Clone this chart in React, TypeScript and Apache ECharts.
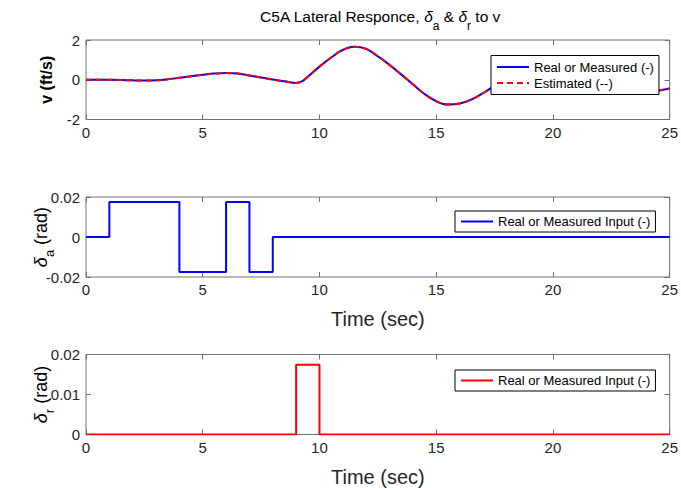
import React, { useEffect, useRef } from 'react';
import * as echarts from 'echarts';

// ---- data ----
const vTime = [0, 0.5, 1, 1.5, 2, 2.5, 3, 3.5, 4, 4.5, 5, 5.5, 6, 6.5, 7, 7.5, 8, 8.5, 9, 9.25, 9.5, 10, 10.5, 11, 11.5, 12, 12.5, 13, 13.5, 14, 14.5, 15, 15.5, 16, 16.5, 17, 17.5, 18, 18.5, 19, 19.5, 20, 20.5, 21, 21.5, 22, 22.5, 23, 23.5, 24, 24.5, 25];
const vReal = [0, 0, 0, -0.01, -0.03, -0.04, -0.03, 0.02, 0.1, 0.18, 0.25, 0.31, 0.34, 0.31, 0.21, 0.11, 0.01, -0.08, -0.16, -0.08, 0.15, 0.66, 1.12, 1.5, 1.66, 1.55, 1.18, 0.75, 0.27, -0.23, -0.72, -1.08, -1.25, -1.2, -1.0, -0.68, -0.3, 0.12, 0.5, 0.75, 0.85, 0.8, 0.6, 0.3, -0.05, -0.35, -0.55, -0.65, -0.68, -0.64, -0.55, -0.44];
const vEstimated = [0, 0, 0, -0.01, -0.03, -0.04, -0.03, 0.02, 0.1, 0.18, 0.25, 0.31, 0.34, 0.31, 0.21, 0.11, 0.01, -0.08, -0.16, -0.08, 0.15, 0.66, 1.12, 1.5, 1.66, 1.55, 1.18, 0.75, 0.27, -0.23, -0.72, -1.08, -1.25, -1.2, -1.0, -0.68, -0.3, 0.12, 0.5, 0.75, 0.85, 0.8, 0.6, 0.3, -0.05, -0.35, -0.55, -0.65, -0.68, -0.64, -0.55, -0.44];
const aileronTime = [0, 1, 4, 6, 7, 8, 25];
const aileronValue = [0, 0.01745, -0.01745, 0.01745, -0.01745, 0, 0];
const rudderTime = [0, 9, 10, 25];
const rudderValue = [0, 0.01745, 0, 0];

const vLegend = ['Real or Measured (-)', 'Estimated (--)'];
const inputLegend = 'Real or Measured Input (-)';

const FONT = '"Liberation Sans", Arial, Helvetica, sans-serif';
const AXIS = '#707070';
const TXT = '#262626';

const pairs = (xs: number[], ys: number[]) => xs.map((x, i) => [x, ys[i]]);

const grids = [
  { left: 86, right: 9, top: 40, height: 79.5 },
  { left: 86, right: 9, top: 197, height: 80 },
  { left: 86, right: 9, top: 354.5, height: 80 },
];

const subRich = {
  d: { fontSize: 18, fontFamily: FONT, fontStyle: 'italic', color: '#000', lineHeight: 20, verticalAlign: 'top' },
  s: { fontSize: 13, fontFamily: FONT, color: '#000', lineHeight: 13, padding: [11, 0, 0, 0], verticalAlign: 'top' },
  n: { fontSize: 18, fontFamily: FONT, color: '#000', lineHeight: 20, verticalAlign: 'top' },
};

export default function App() {
  const ref = useRef<HTMLDivElement>(null);
  useEffect(() => {
    if (!ref.current) return;
    const chart = echarts.init(ref.current, undefined, { renderer: 'svg' });

    const xAxes: any[] = [];
    const yAxes: any[] = [];
    const yRanges = [
      { min: -2, max: 2, interval: 2 },
      { min: -0.02, max: 0.02, interval: 0.02 },
      { min: 0, max: 0.02, interval: 0.01 },
    ];
    const yNames = [
      '{b|v (ft/s)}',
      '{d|δ}{s|a}{n| (rad)}',
      '{d|δ}{s|r}{n| (rad)}',
    ];
    const tick = { show: true, inside: true, length: 5, lineStyle: { color: AXIS } };
    for (let i = 0; i < 3; i++) {
      xAxes.push({
        type: 'value', gridIndex: i, min: 0, max: 25, interval: 5, position: 'bottom',
        axisLine: { show: false, onZero: false },
        axisTick: tick,
        axisLabel: { fontSize: 15, color: TXT, fontFamily: FONT, margin: 5 },
        splitLine: { show: false },
        name: i > 0 ? 'Time (sec)' : '',
        nameLocation: 'middle', nameGap: 32, nameMoveOverlap: false,
        nameTextStyle: { fontSize: 20, color: TXT, fontFamily: FONT },
      });
      xAxes.push({
        type: 'value', gridIndex: i, min: 0, max: 25, interval: 5, position: 'top',
        axisLine: { show: false, onZero: false },
        axisTick: tick,
        axisLabel: { show: false }, splitLine: { show: false },
      });
      yAxes.push({
        type: 'value', gridIndex: i, ...yRanges[i], position: 'left',
        axisLine: { show: false, onZero: false },
        axisTick: tick,
        axisLabel: {
          fontSize: 15, color: TXT, fontFamily: FONT, margin: 6,
          formatter: (v: number) => String(parseFloat(v.toFixed(3))),
        },
        splitLine: { show: false },
        name: yNames[i], nameLocation: 'middle', nameRotate: 90, nameGap: i === 0 ? 30 : 34,
        nameMoveOverlap: false,
        nameTextStyle: {
          rich: {
            ...subRich,
            b: { fontSize: 16, fontFamily: FONT, fontWeight: 'bold', color: '#000', lineHeight: 20 },
          },
        },
      });
      yAxes.push({
        type: 'value', gridIndex: i, ...yRanges[i], position: 'right',
        axisLine: { show: false, onZero: false },
        axisTick: tick,
        axisLabel: { show: false }, splitLine: { show: false },
      });
    }

    const legendBase = {
      orient: 'vertical', itemWidth: 32, itemHeight: 14, itemGap: 3, itemTextGap: 4,
      borderColor: '#000', borderWidth: 1, backgroundColor: '#fff', borderRadius: 0,
      textStyle: { fontSize: 13, color: '#000', fontFamily: FONT },
      itemStyle: { opacity: 0, borderWidth: 0 },
      selectedMode: false,
    };

    chart.setOption({
      animation: false,
      backgroundColor: '#fff',
      grid: grids.map((g) => ({ ...g, show: true, borderColor: AXIS, borderWidth: 1, backgroundColor: '#fff' })),
      xAxis: xAxes,
      yAxis: yAxes,
      legend: [
        { ...legendBase, data: vLegend, left: 491, top: 55.5, padding: [5, 5, 5, 5] },
        { ...legendBase, data: ['ail'], left: 455, top: 211, padding: [4, 5, 4, 5], formatter: () => inputLegend },
        { ...legendBase, data: ['rud'], left: 455, top: 370, padding: [4, 5, 4, 5], formatter: () => inputLegend },
      ],
      graphic: [
        {
          type: 'text', x: 380, y: 18,
          style: {
            text: '{n|C5A Lateral Responce, }{d|δ}{s|a}{n| & }{d|δ}{s|r}{n| to v}',
            align: 'center', verticalAlign: 'middle',
            rich: {
              n: { fontSize: 15.5, fontFamily: FONT, fill: '#000', lineHeight: 20, verticalAlign: 'top' },
              d: { fontSize: 15.5, fontFamily: FONT, fontStyle: 'italic', fill: '#000', lineHeight: 20, verticalAlign: 'top' },
              s: { fontSize: 12, fontFamily: FONT, fill: '#000', lineHeight: 12, padding: [12, 0, 0, 0], verticalAlign: 'top' },
            },
          },
        },
      ],
      series: [
        {
          name: vLegend[0], type: 'line', xAxisIndex: 0, yAxisIndex: 0,
          data: pairs(vTime, vReal), smooth: 0.4, symbol: 'none',
          lineStyle: { color: '#0000ff', width: 2 }, itemStyle: { color: '#0000ff' }, z: 2,
        },
        {
          name: vLegend[1], type: 'line', xAxisIndex: 0, yAxisIndex: 0,
          data: pairs(vTime, vEstimated), smooth: 0.4, symbol: 'none',
          lineStyle: { color: '#ff0000', width: 2, type: [6, 4] }, itemStyle: { color: '#ff0000' }, z: 3,
        },
        {
          name: 'ail', type: 'line', xAxisIndex: 2, yAxisIndex: 2,
          data: pairs(aileronTime, aileronValue), step: 'end', symbol: 'none',
          lineStyle: { color: '#0000ff', width: 2 }, itemStyle: { color: '#0000ff' },
        },
        {
          name: 'rud', type: 'line', xAxisIndex: 4, yAxisIndex: 4,
          data: pairs(rudderTime, rudderValue), step: 'end', symbol: 'none',
          lineStyle: { color: '#ff0000', width: 2 }, itemStyle: { color: '#ff0000' },
        },
      ],
    });
    return () => chart.dispose();
  }, []);

  return (
    <div
      ref={ref}
      style={{ position: 'absolute', left: 0, top: 0, width: 681, height: 488, background: '#fff' }}
    />
  );
}
